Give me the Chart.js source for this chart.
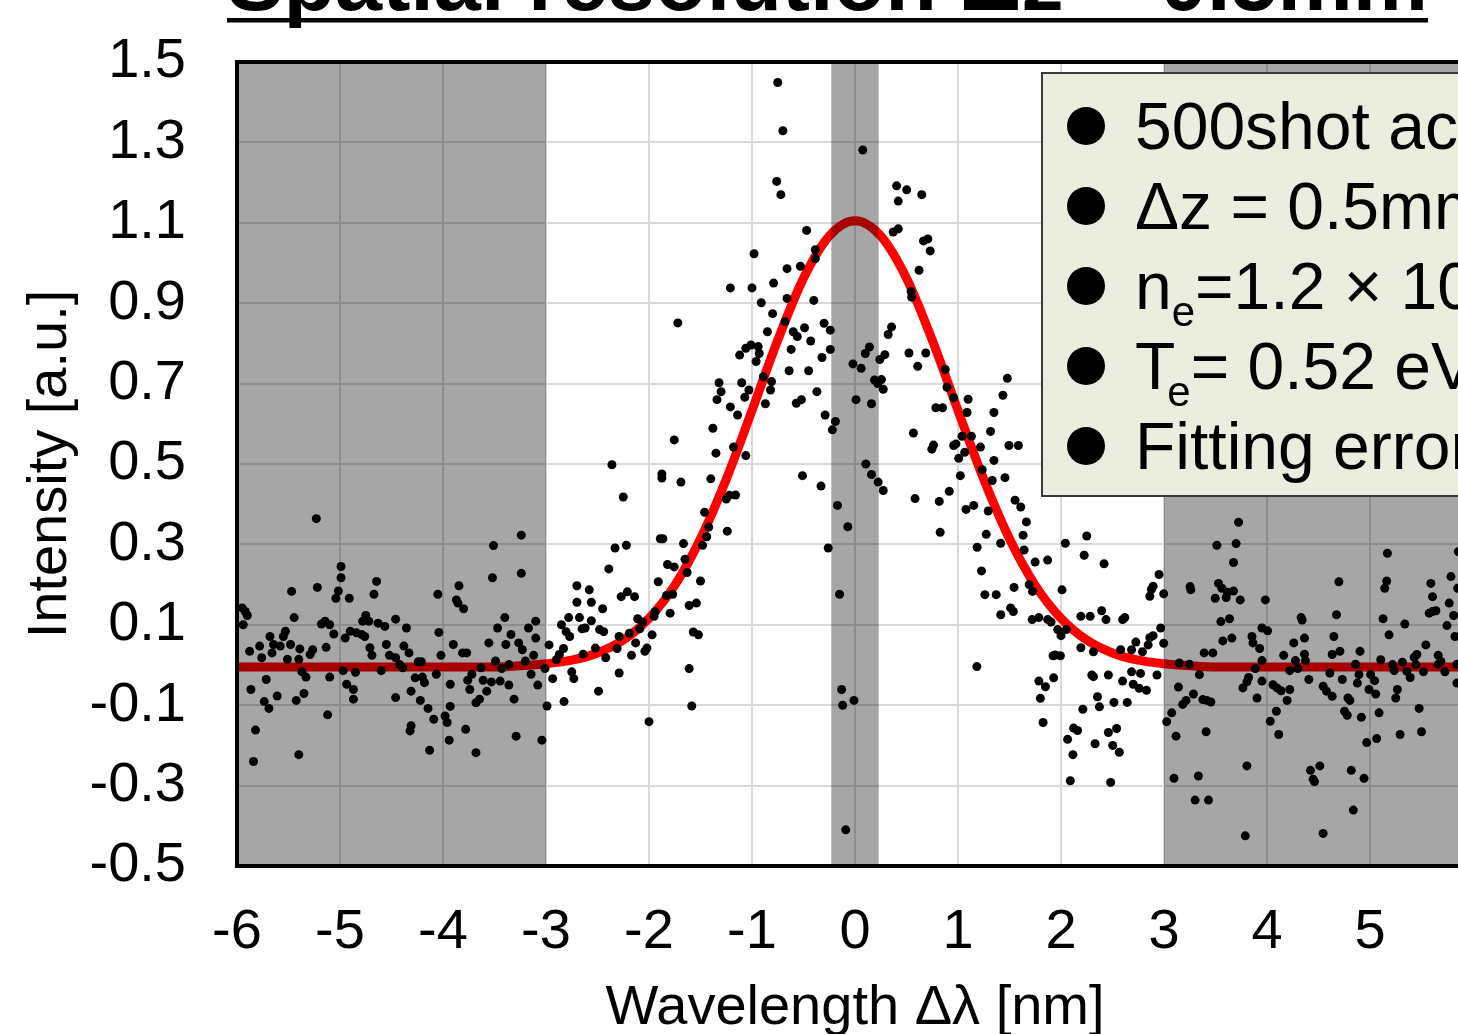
<!DOCTYPE html>
<html><head><meta charset="utf-8">
<script src="https://cdn.jsdelivr.net/npm/chart.js@4.4.0/dist/chart.umd.min.js"></script>
<style>
html,body{margin:0;padding:0;background:#fff;overflow:hidden;width:1458px;height:1034px;}
#wrap{position:absolute;left:0;top:-23px;width:1522px;height:1093px;}
</style></head><body>
<div id="wrap"><canvas id="c" width="1522" height="1093"></canvas></div>
<script>
const titleText = 'Spatial resolution Δz = 0.5mm';
const xAxisTitle = 'Wavelength Δλ [nm]';
const yAxisTitle = 'Intensity [a.u.]';
const shadedRanges = [[-6, -3], [-0.23, 0.23], [3, 6]];

// Gaussian fit curve
const fitX = [-6,-5.75,-5.5,-5.25,-5,-4.75,-4.5,-4.25,-4,-3.75,-3.5,-3.25,-3,-2.75,-2.5,-2.25,-2,-1.75,-1.5,-1.25,-1,-0.75,-0.5,-0.25,0,0.25,0.5,0.75,1,1.25,1.5,1.75,2,2.25,2.5,2.75,3,3.25,3.5,3.75,4,4.25,4.5,4.75,5,5.25,5.5,5.75,6];
const fitY = [-0.005,-0.005,-0.005,-0.005,-0.005,-0.005,-0.005,-0.005,-0.005,-0.005,-0.005,-0.002,0.003,0.012,0.030,0.062,0.116,0.198,0.314,0.462,0.633,0.808,0.962,1.067,1.105,1.067,0.962,0.808,0.633,0.462,0.314,0.198,0.116,0.062,0.030,0.012,0.003,-0.002,-0.005,-0.005,-0.005,-0.005,-0.005,-0.005,-0.005,-0.005,-0.005,-0.005,-0.005];

// 500-shot accumulated measurement points [Δλ, intensity]
const shotsLeft = [[-5.95,0.142],[-5.92,0.133],[-5.90,0.123],[-5.94,0.100],[-5.877,0.034],[-5.78,0.047],[-5.76,0.018],[-5.68,0.071],[-5.66,0.030],[-5.645,0.051],[-5.58,0.047],[-5.55,0.071],[-5.53,0.084],[-5.48,0.051],[-5.47,0.183],[-5.445,0.118],[-5.51,0.014],[-5.40,0.014],[-5.39,0.040],[-5.37,-0.017],[-5.33,-0.030],[-5.29,0.026],[-5.265,0.038],[-5.22,0.193],[-5.18,0.102],[-5.145,0.109],[-5.135,0.044],[-5.10,-0.030],[-5.10,0.100],[-5.06,0.077],[-5.04,0.166],[-5.016,0.184],[-4.99,0.217],[-4.99,0.245],[-4.97,-0.014],[-4.95,0.067],[-4.935,-0.048],[-4.91,0.166],[-4.90,0.084],[-4.87,-0.061],[-4.87,-0.085],[-4.85,-0.018],[-4.84,0.080],[-4.79,0.076],[-4.76,0.071],[-4.78,0.109],[-4.75,0.123],[-4.72,0.109],[-4.71,0.043],[-4.69,0.024],[-4.67,0.176],[-4.645,0.208],[-4.63,0.104],[-4.565,0.096],[-4.60,-0.014],[-4.55,0.051],[-4.52,0.024],[-4.46,0.114],[-4.46,0.018],[-4.42,0.001],[-4.39,-0.007],[-4.46,-0.081],[-4.38,0.047],[-4.355,0.092],[-4.33,0.030],[-4.31,-0.065],[-4.31,-0.151],[-4.32,-0.164],[-4.27,-0.032],[-4.24,0.008],[-4.21,0.008],[-4.22,-0.088],[-4.20,-0.030],[-4.18,-0.044],[-4.145,-0.108],[-4.13,-0.212],[-4.09,-0.135],[-4.065,-0.023],[-4.05,0.176],[-4.04,0.081],[-4.02,0.024],[-3.98,-0.127],[-3.96,-0.143],[-3.94,-0.187],[-3.93,-0.103],[-3.93,-0.048],[-3.90,0.051],[-3.87,0.162],[-3.845,0.197],[-3.855,0.154],[-3.80,0.140],[-3.81,0.030],[-3.77,0.030],[-3.78,-0.160],[-3.76,-0.038],[-3.74,-0.061],[-3.72,-0.023],[-3.68,-0.094],[-3.68,-0.218],[-3.645,-0.085],[-3.63,-0.007],[-3.61,-0.038],[-3.575,-0.065],[-3.555,0.055],[-3.53,-0.042],[-3.52,0.217],[-3.51,0.297],[-3.49,0.010],[-3.47,0.092],[-3.445,-0.040],[-3.43,-0.009],[-3.40,0.118],[-3.39,0.051],[-3.36,0.001],[-3.36,-0.050],[-3.34,0.076],[-3.31,-0.085],[-3.29,-0.177],[-3.265,0.055],[-3.24,0.323],[-3.24,0.228],[-3.23,0.038],[-3.20,0.010],[-3.17,0.092],[-3.145,-0.023],[-3.12,0.024],[-3.10,0.109],[-3.10,0.067],[-3.08,-0.050],[-5.865,-0.061],[-5.735,-0.091],[-5.69,-0.108],[-5.716,-0.036],[-5.61,-0.077],[-5.425,-0.088],[-5.35,-0.071],[-5.82,-0.162],[-5.84,-0.240],[-5.40,-0.223],[-5.12,-0.124],[-5.23,0.364],[-3.04,-0.187],[-3.01,-0.009]];

const shotsRise = [[-2.99,-0.102],[-2.97,0.050],[-2.935,-0.034],[-2.90,0.013],[-2.87,0.026],[-2.85,0.100],[-2.83,0.041],[-2.825,-0.091],[-2.805,0.083],[-2.78,0.118],[-2.77,0.071],[-2.75,-0.017],[-2.73,-0.034],[-2.70,0.197],[-2.70,0.156],[-2.675,0.118],[-2.65,0.090],[-2.64,0.027],[-2.62,0.092],[-2.58,0.187],[-2.56,0.156],[-2.56,0.110],[-2.52,0.042],[-2.49,-0.065],[-2.48,0.088],[-2.45,0.140],[-2.44,0.083],[-2.42,0.018],[-2.39,0.239],[-2.36,0.498],[-2.33,0.291],[-2.31,0.041],[-2.29,-0.020],[-2.29,0.071],[-2.27,0.170],[-2.25,0.418],[-2.22,0.298],[-2.21,0.182],[-2.19,0.079],[-2.17,0.024],[-2.14,0.170],[-2.13,0.055],[-2.11,0.115],[-2.09,0.090],[-2.06,0.107],[-2.04,0.034],[-2.02,0.042],[-2.00,-0.141],[-1.97,0.075],[-1.95,0.121],[-1.94,0.133],[-1.91,0.207],[-1.89,0.314],[-1.865,0.314],[-1.875,0.475],[-1.875,0.465],[-1.83,0.173],[-1.82,0.250],[-1.795,0.129],[-1.77,0.176],[-1.755,0.244],[-1.755,0.560],[-1.69,0.455],[-1.665,0.302],[-1.65,0.263],[-1.63,0.230],[-1.61,-0.009],[-1.61,0.148],[-1.585,-0.102],[-1.57,0.082],[-1.54,0.154],[-1.52,0.075],[-1.50,0.209],[-1.48,0.298],[-1.46,0.380],[-1.44,0.319],[-1.42,0.343],[-1.25,0.413],[-1.22,0.422],[-1.16,0.423],[-1.24,0.333],[-1.72,0.851]];

const shotsPeak = [[-0.75,1.449],[-0.70,1.329],[-0.76,1.203],[-0.72,1.170],[0.076,1.281],[-0.47,1.081],[-0.385,1.033],[-0.385,1.011],[-0.98,1.023],[-0.66,0.986],[-0.53,0.992],[-0.79,0.950],[-1.21,0.938],[-1.00,0.938],[-0.66,0.912],[-0.91,0.901],[-0.40,0.907],[-0.80,0.874],[-0.68,0.854],[-0.85,0.829],[-0.60,0.829],[-0.56,0.817],[-0.49,0.839],[-0.43,0.806],[-0.30,0.850],[-0.24,0.833],[-1.01,0.796],[-1.06,0.788],[-1.12,0.771],[-0.94,0.792],[-0.93,0.775],[-0.96,0.755],[-0.62,0.785],[-0.32,0.765],[-0.24,0.785],[-0.64,0.732],[-0.45,0.732],[-0.02,0.749],[0.06,0.738],[0.10,0.775],[0.14,0.791],[0.19,0.709],[0.22,0.700],[-0.89,0.717],[-1.10,0.702],[-1.32,0.702],[-1.30,0.680],[-1.34,0.660],[-1.03,0.684],[-1.07,0.666],[-0.81,0.705],[-0.82,0.684],[-0.87,0.650],[-0.57,0.651],[-0.52,0.660],[-0.37,0.680],[0.01,0.660],[0.16,0.650],[-0.29,0.622],[-0.19,0.606],[-0.22,0.585],[-1.21,0.642],[-1.14,0.622],[-1.38,0.589],[-1.35,0.527],[-1.18,0.542],[-1.06,0.521],[-1.40,0.463],[-0.51,0.471],[0.105,0.500],[0.16,0.474],[-0.33,0.445],[-0.17,0.397],[-0.07,0.344],[-0.26,0.291],[-0.15,0.176],[-0.13,-0.061],[-0.12,-0.100],[-0.01,-0.088],[-0.09,-0.410]];

const shotsFall = [[0.404,1.192],[0.502,1.182],[0.42,1.154],[0.648,1.170],[0.371,1.077],[0.42,1.085],[0.665,1.055],[0.707,1.060],[0.73,1.030],[0.622,0.982],[0.544,0.929],[0.55,0.915],[0.355,0.841],[0.322,0.822],[0.29,0.772],[0.241,0.760],[0.524,0.776],[0.687,0.776],[0.609,0.743],[0.257,0.710],[0.274,0.686],[0.876,0.735],[0.893,0.691],[0.958,0.665],[1.098,0.661],[1.088,0.628],[0.785,0.640],[0.85,0.640],[1.479,0.713],[1.436,0.671],[1.349,0.628],[1.316,0.581],[0.567,0.577],[0.762,0.547],[0.746,0.537],[0.958,0.546],[0.98,0.550],[1.039,0.569],[1.13,0.569],[1.218,0.542],[1.007,0.514],[1.065,0.529],[1.349,0.509],[1.495,0.546],[1.586,0.546],[1.235,0.486],[1.332,0.459],[1.456,0.466],[1.023,0.471],[0.225,0.455],[0.274,0.434],[0.583,0.414],[0.818,0.407],[0.915,0.432],[1.078,0.387],[1.153,0.397],[1.293,0.383],[1.554,0.410],[1.609,0.393],[1.664,0.356],[0.827,0.330],[1.274,0.325],[1.186,0.293],[1.414,0.303],[1.632,0.323],[1.642,0.286],[1.749,0.256],[1.87,0.261],[2.042,0.303],[1.228,0.234],[1.691,0.200],[1.723,0.183],[1.544,0.193],[2.01,0.187],[1.261,0.175],[1.371,0.175],[2.225,0.273],[2.25,0.321],[2.418,0.252],[1.511,0.142],[1.537,0.133],[1.415,0.125],[1.72,0.113],[1.785,0.118],[1.871,0.113],[1.904,0.107],[1.968,0.088],[2.0,0.073],[2.051,0.088],[2.193,0.121],[2.283,0.121],[2.395,0.135],[2.437,0.113],[2.598,0.113],[2.62,0.118],[2.968,0.092],[2.952,0.225],[2.878,0.188],[2.894,0.196],[2.862,0.171],[2.997,0.177],[2.862,0.068],[2.894,0.073],[2.997,0.054],[2.846,0.050],[2.727,0.057],[2.791,0.033],[2.579,0.038],[2.685,0.038],[2.193,0.043],[2.315,0.033],[1.945,0.025],[1.994,0.023],[1.923,0.023],[1.183,-0.004],[2.299,-0.025],[2.315,-0.029],[2.46,-0.025],[2.598,-0.040],[2.685,-0.017],[2.772,-0.021],[2.932,-0.025],[2.701,-0.048],[2.759,-0.058],[2.83,-0.063],[1.785,-0.040],[1.849,-0.054],[1.929,-0.032],[1.80,-0.083],[2.354,-0.079],[2.373,-0.104],[2.514,-0.093],[2.643,-0.093],[2.212,-0.110],[1.826,-0.143],[2.122,-0.157],[2.161,-0.163],[2.064,-0.185],[2.46,-0.168],[2.54,-0.158],[2.331,-0.196],[2.502,-0.200],[2.566,-0.217],[2.116,-0.223],[2.09,-0.288],[2.482,-0.292]];

const shotsRight = [[3.724,0.355],[3.70,0.302],[3.513,0.298],[3.675,0.255],[5.169,0.278],[4.698,0.207],[5.162,0.209],[5.143,0.191],[3.253,0.195],[3.26,0.187],[3.529,0.203],[3.562,0.191],[3.497,0.166],[3.604,0.168],[3.617,0.181],[3.675,0.184],[3.74,0.162],[3.984,0.162],[3.552,0.108],[3.636,0.115],[4.331,0.118],[4.341,0.112],[4.675,0.125],[5.127,0.115],[5.338,0.102],[5.591,0.203],[5.607,0.170],[5.575,0.129],[5.607,0.133],[5.64,0.135],[5.786,0.220],[5.769,0.154],[5.851,0.191],[5.812,0.123],[5.747,0.098],[5.825,0.071],[5.857,0.282],[3.951,0.092],[4.006,0.085],[3.854,0.071],[3.864,0.055],[3.929,0.041],[3.571,0.060],[3.659,0.067],[4.26,0.055],[4.364,0.067],[4.649,0.071],[4.708,0.034],[4.903,0.034],[5.185,0.075],[5.542,0.050],[3.39,0.030],[3.474,0.030],[3.149,0.005],[3.247,0.002],[3.344,-0.024],[3.886,-0.009],[3.951,0.011],[4.162,0.024],[4.276,0.011],[4.364,0.027],[4.373,0.011],[4.299,-0.009],[4.221,-0.014],[4.633,0.026],[4.61,-0.020],[4.86,0.002],[4.893,-0.024],[5.104,0.013],[5.006,-0.024],[5.218,0.001],[5.234,-0.014],[5.315,0.007],[5.429,0.019],[5.455,0.026],[5.445,0.001],[5.357,-0.016],[5.39,-0.031],[5.519,-0.017],[5.662,0.024],[5.688,0.009],[5.662,0.002],[5.727,-0.017],[5.844,0.002],[5.844,-0.045],[3.821,-0.031],[3.805,-0.042],[3.766,-0.057],[3.951,-0.040],[4.058,-0.049],[4.097,-0.057],[4.136,-0.064],[4.221,-0.061],[4.195,-0.088],[3.903,-0.082],[4.406,-0.036],[4.545,-0.053],[4.578,-0.065],[4.633,-0.078],[4.731,-0.036],[4.786,-0.082],[4.805,-0.088],[4.877,-0.045],[4.99,-0.061],[5.045,-0.039],[5.055,-0.072],[5.266,-0.061],[5.25,-0.082],[3.14,-0.055],[3.286,-0.072],[3.182,-0.098],[3.214,-0.088],[3.377,-0.086],[3.416,-0.088],[3.455,-0.092],[3.075,-0.119],[3.026,-0.141],[3.117,-0.177],[4.091,-0.115],[4.032,-0.140],[4.114,-0.173],[4.753,-0.115],[4.779,-0.125],[4.916,-0.130],[5.088,-0.119],[5.477,-0.108],[3.409,-0.166],[5.065,-0.183],[4.968,-0.193],[5.292,-0.173],[5.50,-0.166],[3.097,-0.282],[3.334,-0.276],[3.805,-0.251],[4.422,-0.262],[4.513,-0.251],[4.448,-0.284],[4.461,-0.290],[4.818,-0.262],[4.942,-0.282],[3.302,-0.336],[3.432,-0.336],[4.838,-0.361],[3.789,-0.425],[4.545,-0.419]];

const legendLines = [
  [{t:'500shot accumulation'}],
  [{t:'Δz = 0.5mm'}],
  [{t:'n'},{t:'e',sub:true},{t:'=1.2 × 10'},{t:'21',sup:true},{t:' m'},{t:'-3',sup:true}],
  [{t:'T'},{t:'e',sub:true,back:8},{t:'= 0.52 eV'}],
  [{t:'Fitting error'}]
];

const FONT = '"Liberation Sans", Arial, Helvetica, sans-serif';
Chart.defaults.font.family = FONT;
Chart.defaults.color = '#000';

const toXY = arr => arr.map(p => ({x: p[0], y: p[1]}));
const shotData = toXY([].concat(shotsLeft, shotsRise, shotsPeak, shotsFall, shotsRight));
const fitData = fitX.map((x, i) => ({x, y: fitY[i]}));

const shadePlugin = {
  id: 'shade',
  afterDatasetsDraw(chart) {
    const {ctx, chartArea: a, scales: {x}} = chart;
    ctx.save();
    ctx.beginPath();
    ctx.rect(a.left, a.top, a.right - a.left, a.bottom - a.top);
    ctx.clip();
    ctx.fillStyle = 'rgba(0,0,0,0.35)';
    shadedRanges.forEach(([s, e]) => {
      const p1 = x.getPixelForValue(s), p2 = x.getPixelForValue(e);
      ctx.fillRect(p1, a.top, p2 - p1, a.bottom - a.top);
    });
    ctx.restore();
    ctx.save();
    ctx.strokeStyle = '#000';
    ctx.lineWidth = 4;
    ctx.strokeRect(a.left, a.top, a.right - a.left, a.bottom - a.top);
    ctx.restore();
  }
};

const boxPlugin = {
  id: 'infobox',
  afterDraw(chart) {
    const {ctx, chartArea: a} = chart;
    const bx = a.left + 805, by = a.top + 11, bw = 700, bh = 423;
    ctx.save();
    ctx.fillStyle = '#ebeedf';
    ctx.fillRect(bx, by, bw, bh);
    ctx.strokeStyle = '#3a3a3a';
    ctx.lineWidth = 2;
    ctx.strokeRect(bx, by, bw, bh);
    ctx.fillStyle = '#000';
    ctx.textBaseline = 'alphabetic';
    legendLines.forEach((segs, i) => {
      const base = by + 76 + i * 80;
      ctx.beginPath();
      ctx.arc(bx + 44, base - 23, 19, 0, Math.PI * 2);
      ctx.fill();
      let cx = bx + 93;
      segs.forEach(s => {
        let size = 66, dy = 0;
        if (s.sub) { size = 42; dy = 17; }
        if (s.sup) { size = 40; dy = -26; }
        if (s.back) cx -= s.back;
        ctx.font = size + 'px ' + FONT;
        ctx.fillText(s.t, cx, base + dy);
        cx += ctx.measureText(s.t).width;
      });
    });
    ctx.restore();
  }
};

const titlePlugin = {
  id: 'toptitle',
  afterDraw(chart) {
    const {ctx, chartArea: a} = chart;
    const x0 = a.left - 10, targetW = 1201;
    ctx.save();
    ctx.font = 'bold 100px ' + FONT;
    const w = ctx.measureText(titleText).width;
    const size = 100 * targetW / w;
    ctx.font = 'bold ' + size.toFixed(2) + 'px ' + FONT;
    ctx.fillStyle = '#000';
    ctx.textBaseline = 'alphabetic';
    ctx.fillText(titleText, x0, a.top - 52);
    ctx.fillRect(x0, a.top - 44, targetW, 4.5);
    ctx.restore();
  }
};

new Chart(document.getElementById('c'), {
  type: 'scatter',
  data: {
    datasets: [
      {
        label: '500shot accumulation',
        data: shotData,
        backgroundColor: '#000',
        borderWidth: 0,
        pointRadius: 4.5,
        pointHoverRadius: 4.5,
        order: 0
      },
      {
        label: 'Gaussian fit',
        data: fitData,
        showLine: true,
        borderColor: '#ff0000',
        borderWidth: 9,
        pointRadius: 0,
        cubicInterpolationMode: 'monotone',
        fill: false,
        order: 1
      }
    ]
  },
  options: {
    responsive: false,
    devicePixelRatio: 1,
    animation: false,
    layout: {padding: {top: 85, right: 49, left: 0, bottom: 0}},
    plugins: {legend: {display: false}, tooltip: {enabled: false}, title: {display: false}},
    scales: {
      x: {
        type: 'linear',
        min: -6, max: 6,
        afterFit(scale) { scale.height = 204; },
        border: {display: false},
        grid: {color: '#d9d9d9', lineWidth: 2, drawTicks: false},
        ticks: {stepSize: 1, autoSkip: false, padding: 33, font: {size: 56}, color: '#000', maxRotation: 0,
          callback: v => String(v)},
        title: {display: true, text: xAxisTitle, font: {size: 56}, color: '#000', padding: {top: 0, bottom: 28}}
      },
      y: {
        type: 'linear',
        min: -0.5, max: 1.5,
        afterFit(scale) { scale.width = 237; },
        border: {display: false},
        grid: {color: '#d9d9d9', lineWidth: 2, drawTicks: false},
        ticks: {stepSize: 0.2, padding: 51, font: {size: 56}, color: '#000',
          callback: v => Number(v).toFixed(1)},
        title: {display: true, text: yAxisTitle, font: {size: 56}, color: '#000', padding: {top: 17, bottom: 0}}
      }
    }
  },
  plugins: [shadePlugin, boxPlugin, titlePlugin]
});
</script>
</body></html>
